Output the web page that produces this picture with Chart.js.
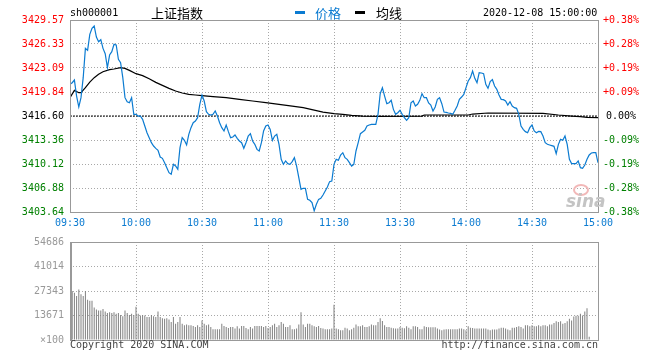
<!DOCTYPE html>
<html lang="zh">
<head>
<meta charset="UTF-8">
<title>上证指数 分时图</title>
<script src="https://cdn.jsdelivr.net/npm/chart.js"></script>
<style>
    body {
        margin: 0;
        background: #fff;
    }

    #wrap {
        position: relative;
        width: 660px;
        height: 360px;
        overflow: hidden;
        font-family: "DejaVu Sans Mono", monospace;
        font-size: 10px;
    }

    #wrap canvas {
        position: absolute;
        left: 0;
    }

    #priceChart { top: 0; }
    #volChart { top: 230px; }

    .txt {
        position: absolute;
        white-space: nowrap;
        line-height: 12px;
    }

    .cn {
        font-family: "Noto Sans CJK SC", sans-serif;
        font-size: 13px;
        line-height: 17px;
    }

    .key {
        position: absolute;
        width: 10px;
        height: 3px;
    }
</style>
</head>
<body>
<div id="wrap">
    <canvas id="priceChart" width="660" height="240" style="width:660px;height:240px"></canvas>
    <canvas id="volChart" width="660" height="130" style="width:660px;height:130px"></canvas>

    <!-- шапка -->
    <div class="txt" style="left:70px; top:7px; color:#000;">sh000001</div>
    <div class="txt cn" style="left:151px; top:4px; color:#000;">上证指数</div>
    <div class="key" style="left:295px; top:11px; background:#0b7bd1;"></div>
    <div class="txt cn" style="left:315px; top:4px; color:#0b7bd1;">价格</div>
    <div class="key" style="left:355px; top:11px; background:#000;"></div>
    <div class="txt cn" style="left:376px; top:4px; color:#000;">均线</div>
    <div class="txt" style="left:483px; top:7px; color:#000;">2020-12-08 15:00:00</div>

    <!-- водяной знак -->
    <div style="position:absolute; left:573px; top:184px; width:12px; height:8px; border:2px solid #f2b8b8; border-radius:50%;"></div>
    <div class="txt" style="left:566px; top:192px; font:italic bold 17px 'DejaVu Sans', sans-serif; line-height:18px; color:#c4c4c4;">sina</div>

    <!-- подвал -->
    <div class="txt" style="left:70px; top:339px; color:#444;">Copyright 2020 SINA.COM</div>
    <div class="txt" style="right:62px; top:339px; color:#444;">http://finance.sina.com.cn</div>
</div>

<script>
    // Данные
    const prevClose = 3416.60;

    const timeLabels = ['09:30', '10:00', '10:30', '11:00', '11:30', '13:30', '14:00', '14:30', '15:00'];
    const tickMinutes = [0, 30, 60, 90, 120, 150, 180, 210, 240];

    const leftTicks = [3403.64, 3406.88, 3410.12, 3413.36, 3416.60, 3419.84, 3423.09, 3426.33, 3429.57];
    const pctLabels = ['-0.38%', '-0.28%', '-0.19%', '-0.09%', '0.00%', '+0.09%', '+0.19%', '+0.28%', '+0.38%'];

    const volTicks = [0, 13671, 27343, 41014, 54686];
    const volLabels = ['×100', '13671', '27343', '41014', '54686'];

    // цена по минутам (0 = 09:30, 240 = 15:00)
    const priceData = [
        3420.88, 3421.10, 3421.46, 3419.30, 3417.82, 3419.08, 3421.78, 3425.74, 3425.47, 3427.63,
        3428.44, 3428.75, 3427.27, 3426.64, 3426.91, 3425.74, 3425.02, 3423.13, 3424.84, 3425.29,
        3426.28, 3426.19, 3424.25, 3423.80, 3421.78, 3419.08, 3418.54, 3418.40, 3419.08, 3416.83,
        3416.83, 3416.60, 3416.60, 3416.15, 3415.25, 3414.35, 3413.68, 3413.00, 3412.55, 3412.24,
        3411.97, 3411.07, 3410.89, 3410.30, 3409.63, 3408.95, 3408.73, 3410.08, 3409.85, 3409.40,
        3412.33, 3413.68, 3413.32, 3412.69, 3414.13, 3415.03, 3415.70, 3415.93, 3416.38, 3418.18,
        3419.44, 3418.63, 3417.19, 3416.83, 3416.74, 3416.83, 3417.28, 3416.60, 3415.70, 3415.03,
        3414.58, 3415.39, 3414.49, 3413.68, 3413.77, 3414.04, 3413.59, 3413.23, 3413.00, 3412.24,
        3413.00, 3413.90, 3414.22, 3413.23, 3412.78, 3412.10, 3411.88, 3413.00, 3414.58, 3415.25,
        3415.39, 3414.80, 3413.32, 3413.90, 3414.13, 3412.78, 3410.75, 3410.08, 3410.53, 3410.17,
        3410.08, 3410.44, 3410.98, 3409.85, 3408.28, 3406.70, 3406.84, 3406.84, 3405.35, 3405.22,
        3404.90, 3403.80, 3404.68, 3405.35, 3405.49, 3405.94, 3406.48, 3407.02, 3407.74, 3407.83,
        3410.08, 3410.75, 3410.62, 3411.34, 3411.65, 3410.98, 3410.75, 3410.30, 3409.85, 3410.08,
        3411.88, 3413.00, 3414.22, 3414.44, 3414.67, 3415.25, 3415.39, 3415.48, 3415.48, 3415.48,
        3416.83, 3419.62, 3420.43, 3419.30, 3418.27, 3418.40, 3418.72, 3417.50, 3416.83, 3417.05,
        3417.37, 3416.83, 3416.38, 3416.02, 3416.38, 3418.40, 3418.63, 3417.95, 3418.18, 3418.72,
        3419.62, 3419.08, 3419.08, 3418.36, 3418.09, 3417.28, 3417.82, 3418.85, 3419.08, 3418.27,
        3417.14, 3417.10, 3417.01, 3416.96, 3416.83, 3417.37, 3417.95, 3418.85, 3419.17, 3419.53,
        3420.43, 3421.33, 3421.78, 3422.68, 3421.69, 3421.10, 3422.45, 3422.41, 3422.32, 3420.88,
        3420.34, 3421.24, 3421.51, 3420.65, 3420.20, 3419.44, 3418.85, 3418.81, 3418.63, 3418.09,
        3418.54, 3417.95, 3417.73, 3417.64, 3416.83, 3415.25, 3414.80, 3414.49, 3414.35, 3415.03,
        3415.39, 3414.58, 3414.35, 3414.53, 3414.49, 3413.90, 3413.00, 3412.78, 3412.69, 3412.60,
        3412.51, 3411.52, 3412.78, 3413.45, 3413.32, 3413.90, 3412.78, 3410.75, 3410.17, 3410.17,
        3410.17, 3410.53, 3409.63, 3409.54, 3409.99, 3410.75, 3411.34, 3411.61, 3411.65, 3411.65,
        3410.30
    ];

    // средняя цена (минута / значение)
    const avgMin = [0, 2, 4, 5, 7, 9, 11, 13, 15, 18, 20, 23, 25, 27, 30, 33, 36, 39, 42, 45,
        48, 51, 54, 57, 60, 65, 71, 77, 83, 89, 95, 101, 106, 110, 115, 120, 124, 128, 133, 140,
        160, 161, 181, 183, 190, 215, 222, 228, 232, 235, 240];
    const avgVal = [3419.08, 3420.07, 3419.75, 3419.75, 3420.43, 3421.19, 3421.78, 3422.23, 3422.59, 3422.86,
        3422.95, 3423.13, 3423.04, 3422.77, 3422.32, 3422.05, 3421.64, 3421.15, 3420.74, 3420.34,
        3419.98, 3419.71, 3419.53, 3419.44, 3419.35, 3419.21, 3419.08, 3418.85, 3418.63, 3418.40,
        3418.18, 3417.95, 3417.73, 3417.46, 3417.14, 3416.92, 3416.83, 3416.69, 3416.60, 3416.56,
        3416.60, 3416.74, 3416.74, 3416.87, 3417.01, 3416.96, 3416.74, 3416.60, 3416.51, 3416.42,
        3416.38];

    // объём по минутам (×100)
    const volData = [
        27300, 27300, 26400, 24600, 28200, 25500, 24600, 27300, 22400, 21900,
        21900, 18200, 17000, 16400, 16400, 17300, 15900, 15100, 15500, 15100,
        15500, 14600, 15100, 14000, 13300, 16400, 15100, 14000, 14600, 14000,
        18600, 14600, 13700, 14000, 13700, 12800, 12800, 14000, 13300, 12800,
        15900, 12800, 12200, 11800, 12200, 11500, 10000, 12800, 9100, 10000,
        12800, 9100, 8200, 8600, 8200, 8200, 7800, 7300, 8200, 7300,
        10900, 9100, 8200, 8600, 7300, 6000, 6000, 6000, 6000, 9100,
        7800, 7300, 6700, 7300, 7300, 6400, 7700, 6400, 7800, 7800,
        6700, 6000, 7300, 6400, 7800, 7800, 7800, 7800, 7300, 7800,
        6700, 7300, 8200, 9100, 7300, 8200, 10000, 9100, 7300, 7300,
        8200, 6000, 6000, 6400, 8600, 15500, 8600, 7300, 9100, 9100,
        8200, 7700, 7300, 7800, 6700, 6400, 6000, 6000, 6000, 6400,
        19700, 6400, 6000, 5500, 5500, 6900, 6400, 5500, 6000, 6900,
        8600, 7700, 7700, 8200, 7300, 7300, 7700, 8600, 8200, 8200,
        10000, 12200, 10600, 8200, 7300, 7300, 6900, 6600, 6400, 6400,
        7300, 6900, 6600, 7700, 6900, 6000, 7700, 7700, 7300, 6000,
        6000, 7700, 7300, 7100, 7100, 7100, 7100, 6400, 5800, 5500,
        5800, 6000, 6000, 6000, 6000, 6000, 6000, 6400, 6400, 6000,
        5500, 7700, 6900, 6700, 6400, 6400, 6400, 6400, 6400, 6400,
        5800, 5500, 5800, 5800, 5800, 6400, 6900, 6900, 6400, 5800,
        5500, 6900, 6900, 7300, 7700, 7300, 6400, 8200, 8200, 7700,
        8200, 7700, 7700, 8200, 7700, 8200, 8200, 7700, 8600, 8600,
        9500, 10400, 10000, 10400, 9100, 9500, 10400, 11800, 10900, 13100,
        13500, 13500, 14600, 13700, 15900, 17700, 1800, 0, 0, 0,
        0
    ];

    const BLUE = '#0b7bd1';
    const GRID = '#a8a8a8';
    const FONT = {family: '"DejaVu Sans Mono", monospace', size: 10};

    function levelColor(v) {
        if (v > prevClose + 0.001) return '#ff0000';
        if (v < prevClose - 0.001) return '#008000';
        return '#000';
    }

    // рамка вокруг области графика
    const framePlugin = {
        id: 'frame',
        afterDatasetsDraw(chart, args, opts) {
            const a = chart.chartArea;
            const ctx = chart.ctx;
            const l = Math.round(a.left), t = Math.round(a.top);
            const r = Math.round(a.right), b = Math.round(a.bottom);
            ctx.save();
            ctx.strokeStyle = opts.color || '#999';
            ctx.lineWidth = 1;
            ctx.setLineDash([]);
            ctx.strokeRect(l + 0.5, t + 0.5, r - l, b - t);
            if (opts.thickLeft) {
                ctx.fillStyle = opts.color || '#999';
                ctx.fillRect(l, t, 2, b - t + 1);
            }
            ctx.restore();
        }
    };

    const pricePoints = priceData.map((v, i) => ({x: i, y: v}));
    const avgPoints = avgMin.map((m, i) => ({x: m, y: avgVal[i]}));

    new Chart(document.getElementById('priceChart'), {
        type: 'line',
        data: {
            datasets: [
                {label: '价格', data: pricePoints, borderColor: BLUE, borderWidth: 1.2, pointRadius: 0, tension: 0},
                {label: '均线', data: avgPoints, borderColor: '#000', borderWidth: 1.2, pointRadius: 0, tension: 0},
                {
                    label: '昨收', data: [{x: 0, y: prevClose}, {x: 240, y: prevClose}],
                    borderColor: '#000', borderWidth: 1, borderDash: [2, 1], pointRadius: 0
                }
            ]
        },
        options: {
            responsive: false,
            animation: false,
            events: [],
            layout: {padding: {top: 20, left: 0, right: 0, bottom: 0}},
            plugins: {
                legend: {display: false},
                tooltip: {enabled: false},
                frame: {color: '#999'}
            },
            scales: {
                x: {
                    type: 'linear', min: 0, max: 240,
                    afterBuildTicks: s => { s.ticks = tickMinutes.map(v => ({value: v})); },
                    afterFit: s => { s.height = 28; },
                    ticks: {
                        callback: (v, i) => timeLabels[i],
                        color: BLUE, font: FONT, padding: 5, maxRotation: 0, autoSkip: false
                    },
                    grid: {color: GRID, drawTicks: false},
                    border: {display: false, dash: [1, 2]}
                },
                y: {
                    position: 'left', min: leftTicks[0], max: leftTicks[leftTicks.length - 1],
                    afterBuildTicks: s => { s.ticks = leftTicks.map(v => ({value: v})); },
                    afterFit: s => { s.width = 70; },
                    ticks: {
                        callback: (v, i) => leftTicks[i].toFixed(2),
                        color: ctx => levelColor(ctx.tick.value),
                        font: FONT, padding: 6, autoSkip: false
                    },
                    grid: {color: GRID, drawTicks: false},
                    border: {display: false, dash: [1, 2]}
                },
                y1: {
                    position: 'right', min: leftTicks[0], max: leftTicks[leftTicks.length - 1],
                    afterBuildTicks: s => { s.ticks = leftTicks.map(v => ({value: v})); },
                    afterFit: s => { s.width = 62; },
                    ticks: {
                        callback: (v, i) => pctLabels[i],
                        color: ctx => levelColor(ctx.tick.value),
                        font: FONT, padding: 5, autoSkip: false, crossAlign: 'center'
                    },
                    grid: {display: false, drawTicks: false},
                    border: {display: false}
                }
            }
        },
        plugins: [framePlugin]
    });

    const volPoints = volData.map((v, i) => ({x: i, y: v}));

    new Chart(document.getElementById('volChart'), {
        type: 'bar',
        data: {
            datasets: [{
                label: '成交量', data: volPoints, backgroundColor: '#808080',
                barThickness: 1, grouped: false, inflateAmount: 0
            }]
        },
        options: {
            responsive: false,
            animation: false,
            events: [],
            layout: {padding: {top: 10, left: 0, right: 62, bottom: 0}},
            plugins: {
                legend: {display: false},
                tooltip: {enabled: false},
                frame: {color: '#999', thickLeft: true}
            },
            scales: {
                x: {
                    type: 'linear', min: 0, max: 240, offset: false,
                    afterBuildTicks: s => { s.ticks = tickMinutes.map(v => ({value: v})); },
                    afterFit: s => { s.height = 20; },
                    ticks: {display: false},
                    grid: {color: GRID, drawTicks: false, offset: false},
                    border: {display: false, dash: [1, 2]}
                },
                y: {
                    min: 0, max: volTicks[volTicks.length - 1],
                    afterBuildTicks: s => { s.ticks = volTicks.map(v => ({value: v})); },
                    afterFit: s => { s.width = 70; },
                    ticks: {
                        callback: (v, i) => volLabels[i],
                        color: '#999', font: FONT, padding: 6, autoSkip: false
                    },
                    grid: {color: GRID, drawTicks: false},
                    border: {display: false, dash: [1, 2]}
                }
            }
        },
        plugins: [framePlugin]
    });
</script>
</body>
</html>
